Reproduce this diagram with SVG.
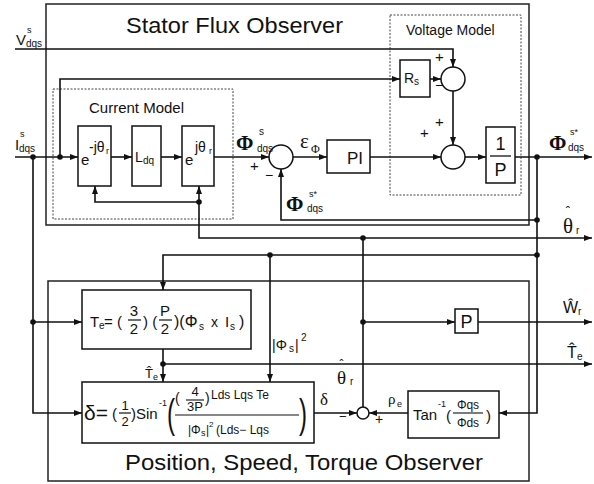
<svg xmlns="http://www.w3.org/2000/svg" width="594" height="484" viewBox="0 0 594 484">
<defs>
<marker id="ah" markerUnits="userSpaceOnUse" markerWidth="8" markerHeight="6" refX="8" refY="3" orient="auto">
<path d="M0,0 L8,3 L0,6 z" fill="#111"/>
</marker>
<style>
text{font-family:"Liberation Sans",Arial,sans-serif;fill:#111}
.ser{font-family:"Liberation Serif","Times New Roman",serif}
.box{fill:none;stroke:#222;stroke-width:1.5}
.dot-box{fill:none;stroke:#444;stroke-width:1;stroke-dasharray:2,1.5}
.blk{fill:#fff;stroke:#111;stroke-width:1.5}
.sum{fill:#fff;stroke:#111;stroke-width:1.5}
.w{fill:none;stroke:#111;stroke-width:1.6}
.wa{fill:none;stroke:#111;stroke-width:1.6;marker-end:url(#ah)}
.jd{fill:#111}
.t{font-size:15px}
.phi{font-family:"Liberation Serif","Times New Roman",serif;font-weight:bold;font-size:21px}
</style>
</defs>

<g id="stator-flux-observer">
<rect class="box" x="46" y="4" width="483" height="221"/>
<text x="126" y="33" font-size="22" textLength="217" lengthAdjust="spacingAndGlyphs">Stator Flux Observer</text>
</g>

<g id="current-model">
<rect class="dot-box" x="53" y="89" width="180" height="130"/>
<text x="89" y="113" font-size="15">Current Model</text>
</g>

<g id="voltage-model">
<rect class="dot-box" x="390" y="15" width="131" height="180"/>
<text x="406" y="35" font-size="14">Voltage Model</text>
</g>

<g id="position-observer">
<rect class="box" x="48" y="281" width="481" height="200"/>
<text x="125" y="470" font-size="22" textLength="358" lengthAdjust="spacingAndGlyphs">Position, Speed, Torque Observer</text>
</g>

<g id="block-e-minus">
<rect class="blk" x="78" y="126" width="33" height="60"/>
<text x="81" y="165" class="t">e</text>
<text x="89" y="152" font-size="14">-jθ</text>
<text x="106" y="154" font-size="9">r</text>
</g>

<g id="block-ldq">
<rect class="blk" x="132" y="126" width="29" height="60"/>
<text x="135" y="162" font-size="14">L</text>
<text x="143" y="164" font-size="10">dq</text>
</g>

<g id="block-e-plus">
<rect class="blk" x="182" y="126" width="32" height="60"/>
<text x="185" y="165" class="t">e</text>
<text x="195" y="152" font-size="14">jθ</text>
<text x="209" y="154" font-size="9">r</text>
</g>

<g id="sum1"><circle class="sum" cx="281" cy="157" r="12"/></g>

<g id="block-pi">
<rect class="blk" x="327" y="140" width="43" height="33"/>
<text x="347" y="164" font-size="17">PI</text>
</g>

<g id="block-rs">
<rect class="blk" x="400" y="60" width="30" height="37"/>
<text x="404" y="83" font-size="14">R</text>
<text x="414" y="85" font-size="10">s</text>
</g>

<g id="sum2"><circle class="sum" cx="453" cy="79" r="12"/></g>
<g id="sum3"><circle class="sum" cx="453" cy="157" r="12"/></g>

<g id="block-integrator">
<rect class="blk" x="486" y="127" width="29" height="56"/>
<text x="500.5" y="150" font-size="18" text-anchor="middle">1</text>
<line x1="490" y1="156" x2="511" y2="156" stroke="#111" stroke-width="1.3"/>
<text x="500.5" y="176" font-size="18" text-anchor="middle">P</text>
</g>

<g id="block-torque">
<rect class="blk" x="82" y="290" width="169" height="59"/>
<text x="90" y="327" font-size="15">T</text>
<text x="99" y="329" font-size="10">e</text>
<text x="104" y="327" font-size="15">= (</text>
<text x="134" y="316" font-size="15" text-anchor="middle">3</text>
<line x1="128" y1="320" x2="141" y2="320" stroke="#111" stroke-width="1.2"/>
<text x="134" y="334" font-size="15" text-anchor="middle">2</text>
<text x="143" y="327" font-size="15">) (</text>
<text x="165" y="316" font-size="15" text-anchor="middle">P</text>
<line x1="159" y1="320" x2="172" y2="320" stroke="#111" stroke-width="1.2"/>
<text x="165" y="334" font-size="15" text-anchor="middle">2</text>
<text x="174" y="327" font-size="16">)(Φ</text>
<text x="199" y="330" font-size="10">s</text>
<text x="211" y="327" font-size="14">x</text>
<text x="225" y="327" font-size="15">I</text>
<text x="230" y="330" font-size="10">s</text>
<text x="239" y="327" font-size="16">)</text>
</g>

<g id="block-delta">
<rect class="blk" x="82" y="382" width="232" height="61"/>
<text x="84" y="420" font-size="21">δ=</text>
<text x="112" y="419" font-size="15">(</text>
<text x="125" y="410" font-size="13" text-anchor="middle">1</text>
<line x1="119" y1="413" x2="131" y2="413" stroke="#111" stroke-width="1.2"/>
<text x="125" y="426" font-size="13" text-anchor="middle">2</text>
<text x="131" y="419" font-size="15">)Sin</text>
<text x="159" y="406" font-size="9">-1</text>
<text x="167" y="428" font-size="40" transform="translate(167,428) scale(0.6,1) translate(-167,-428)">(</text>
<text x="175" y="403" font-size="14">(</text>
<text x="195" y="396" font-size="13" text-anchor="middle">4</text>
<line x1="186" y1="400" x2="204" y2="400" stroke="#111" stroke-width="1.1"/>
<text x="195" y="411" font-size="13" text-anchor="middle">3P</text>
<text x="205" y="403" font-size="14">)</text>
<text x="211" y="399" font-size="12">Lds Lqs Te</text>
<line x1="175" y1="415" x2="299" y2="415" stroke="#111" stroke-width="1.2"/>
<text x="188" y="434" font-size="12">|Φ</text>
<text x="201" y="436" font-size="9">s</text>
<text x="206" y="434" font-size="12">|</text>
<text x="209" y="427" font-size="8">2</text>
<text x="216" y="434" font-size="12">(Lds− Lqs</text>
<text x="299" y="428" font-size="40" transform="translate(299,428) scale(0.6,1) translate(-299,-428)">)</text>
</g>

<g id="sum4"><circle class="sum" cx="363" cy="413" r="6"/></g>

<g id="block-tan">
<rect class="blk" x="408" y="391" width="91" height="47"/>
<text x="413" y="420" font-size="15">Tan</text>
<text x="438" y="407" font-size="9">-1</text>
<text x="446" y="421" font-size="15">(</text>
<text x="468" y="409" font-size="12" text-anchor="middle">Φqs</text>
<line x1="453" y1="413" x2="483" y2="413" stroke="#111" stroke-width="1.1"/>
<text x="468" y="427" font-size="12" text-anchor="middle">Φds</text>
<text x="486" y="421" font-size="15">)</text>
</g>

<g id="block-p">
<rect class="blk" x="455" y="309" width="23" height="24"/>
<text x="466.5" y="328" font-size="18" text-anchor="middle">P</text>
</g>

<g id="connectors">
<path class="wa" d="M15,49 H453 V67"/>
<path class="wa" d="M15,157 H78"/>
<path class="wa" d="M60,157 V79 H400"/>
<path class="wa" d="M111,157 H132"/>
<path class="wa" d="M161,157 H182"/>
<path class="wa" d="M214,157 H269"/>
<path class="wa" d="M293,157 H327"/>
<path class="wa" d="M370,157 H441"/>
<path class="wa" d="M465,157 H486"/>
<path class="wa" d="M515,157 H592"/>
<path class="wa" d="M430,79 H441"/>
<path class="wa" d="M453,91 V145"/>
<path class="wa" d="M537,220 H281 V169"/>
<path class="wa" d="M537,157 V413 H499"/>
<path class="wa" d="M363,238 H592"/>
<path class="wa" d="M363,238 H199 V186"/>
<path class="wa" d="M199,202 H95 V186"/>
<path class="w" d="M363,407 V238"/>
<path class="wa" d="M363,322 H455"/>
<path class="wa" d="M478,322 H592"/>
<path class="wa" d="M537,255 H163 V290"/>
<path class="wa" d="M270,255 V382"/>
<path class="wa" d="M163,349 V382"/>
<path class="wa" d="M163,364 H592"/>
<path class="wa" d="M33,157 V413 H82"/>
<path class="wa" d="M33,322 H82"/>
<path class="wa" d="M314,413 H357"/>
<path class="wa" d="M408,413 H369"/>
<circle class="jd" cx="33" cy="157" r="2.8"/>
<circle class="jd" cx="60" cy="157" r="2.8"/>
<circle class="jd" cx="33" cy="322" r="2.8"/>
<circle class="jd" cx="199" cy="202" r="2.8"/>
<circle class="jd" cx="363" cy="238" r="2.8"/>
<circle class="jd" cx="537" cy="157" r="2.8"/>
<circle class="jd" cx="537" cy="220" r="2.8"/>
<circle class="jd" cx="537" cy="255" r="2.8"/>
<circle class="jd" cx="270" cy="255" r="2.8"/>
<circle class="jd" cx="363" cy="322" r="2.8"/>
<circle class="jd" cx="163" cy="364" r="2.8"/>
</g>

<g id="labels">
<text x="16" y="45" font-size="15">V</text>
<text x="27" y="33" font-size="9">s</text>
<text x="26" y="47" font-size="10">dqs</text>
<text x="15" y="150" font-size="15">I</text>
<text x="20" y="137" font-size="9">s</text>
<text x="19" y="152" font-size="10">dqs</text>
<text class="phi" x="236" y="150">Φ</text>
<text x="259" y="135" font-size="10">s</text>
<text x="257" y="152" font-size="10">dqs</text>
<text x="250" y="171" font-size="15">+</text>
<text x="265" y="180" font-size="14">−</text>
<text class="ser" x="300" y="148" font-size="21">ε</text>
<text class="ser" x="311" y="153" font-size="12">Φ</text>
<text class="phi" x="286" y="211">Φ</text>
<text x="309" y="197" font-size="9">s*</text>
<text x="307" y="212" font-size="10">dqs</text>
<text x="435" y="62" font-size="15">+</text>
<text x="435" y="90" font-size="14">−</text>
<text x="435" y="127" font-size="15">+</text>
<text x="420" y="138" font-size="15">+</text>
<text class="phi" x="549" y="150">Φ</text>
<text x="570" y="135" font-size="9">s*</text>
<text x="568" y="151" font-size="10">dqs</text>
<text class="ser" x="563" y="233" font-size="21">θ</text>
<text x="568" y="216" font-size="13" text-anchor="middle">ˆ</text>
<text x="576" y="234" font-size="10">r</text>
<text x="272" y="350" font-size="14">|Φ</text>
<text x="289" y="352" font-size="10">s</text>
<text x="295" y="350" font-size="14">|</text>
<text x="301" y="341" font-size="10">2</text>
<text x="145" y="378" font-size="13">T̂</text>
<text x="153" y="380" font-size="9">e</text>
<text x="563" y="313" font-size="16">Ŵ</text>
<text x="578" y="315" font-size="10">r</text>
<text x="567" y="358" font-size="16">T̂</text>
<text x="577" y="360" font-size="10">e</text>
<text class="ser" x="337" y="384" font-size="19">θ</text>
<text x="341.5" y="369" font-size="12" text-anchor="middle">ˆ</text>
<text x="350" y="385" font-size="10">r</text>
<text class="ser" x="320" y="405" font-size="17">δ</text>
<text x="339" y="421" font-size="13">−</text>
<text x="375" y="424" font-size="14">+</text>
<text class="ser" x="388" y="404" font-size="15">ρ</text>
<text x="397" y="407" font-size="9">e</text>
</g>
</svg>
